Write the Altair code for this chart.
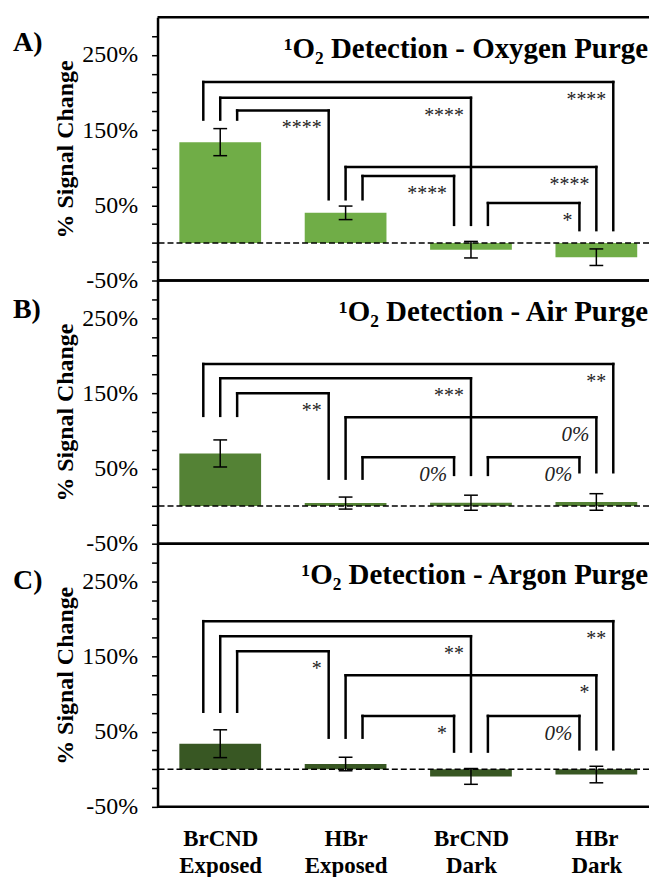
import json
import altair as alt
import pandas as pd

# ---------------- data ----------------
categories = ["BrCND Exposed", "HBr Exposed", "BrCND Dark", "HBr Dark"]
label_lines = [["BrCND", "Exposed"], ["HBr", "Exposed"], ["BrCND", "Dark"], ["HBr", "Dark"]]

panel_letters = ["A)", "B)", "C)"]
panel_titles = [
    "¹O₂ Detection - Oxygen Purge",
    "¹O₂ Detection - Air Purge",
    "¹O₂ Detection - Argon Purge",
]
bar_colors = ["#70AD47", "#548235", "#385723"]

means_oxygen = [134, 40, -9, -19]
errors_oxygen = [18, 9, 11, 11]
means_air = [70, 4, 4.5, 5.5]
errors_air = [18, 8, 10, 11]
means_argon = [34, 7, -9.5, -7]
errors_argon = [18.5, 9, 10.5, 11]

# comparisons (index of left bar, index of right bar)
comparison_pairs = [(0, 3), (0, 2), (0, 1), (1, 3), (1, 2), (2, 3)]
left_slot = [-1, 0, 1, 0, 1, 1]
right_slot = [1, 0, -1, 0, -1, -1]

bracket_tops_oxygen = [214, 193, 176, 101, 89, 53]
leg_ends_oxygen = [164, 58, 24, 17]
sig_oxygen = ["****", "****", "****", "****", "****", "*"]

bracket_tops_air = [189, 170, 150, 118, 65, 65]
leg_ends_air = [120, 36.5, 41.5, 45]
sig_air = ["**", "***", "**", "0%", "0%", "0%"]

bracket_tops_argon = [197, 177, 157, 125, 71, 71]
leg_ends_argon = [76.5, 42, 23.5, 26.5]
sig_argon = ["**", "**", "*", "*", "*", "0%"]

# ---------------- layout / style ----------------
SERIF = "Liberation Serif"
PLOT_W = 493
PLOT_H = 264
X_DOMAIN = [-0.5, 3.42]
Y_DOMAIN = [-50, 300]
BAR_HALF = 0.326
CAP_HALF = 0.055
LEG_GAP = 0.135
LETTER_BASELINE = [34, 38, 45]
TITLE_BASELINE = 40.5

x_label_expr = json.dumps(label_lines) + "[datum.value]"


def make_panel(k, means, errs, tops, legs, sigs):
    xscale = alt.Scale(domain=X_DOMAIN, nice=False, zero=False)
    if k == 2:
        xaxis = alt.Axis(
            values=[0, 1, 2, 3], labelExpr=x_label_expr, domain=False, ticks=False,
            tickSize=0, labelFont=SERIF, labelFontSize=23, labelFontWeight="bold",
            labelColor="black", labelPadding=21, labelLineHeight=27, labelFlush=False,
            labelOverlap=False, grid=False, title=None,
        )
    else:
        xaxis = None
    yaxis = alt.Axis(
        values=list(range(-50, 276, 25)),
        labelExpr="(datum.value + 50) % 100 == 0 ? datum.value + '%' : ''",
        tickSize=6, tickWidth=1.5, tickColor="black", domainColor="black",
        domainWidth=2.5, labelFont=SERIF, labelFontSize=24, labelColor="black",
        labelPadding=14, labelFlush=False, labelOverlap=False, grid=False,
        title="% Signal Change", titleFont=SERIF, titleFontSize=24,
        titleFontWeight="bold", titleColor="black", titleX=-92, titleY=PLOT_H / 2,
        titleAngle=270, titleAlign="center", titleBaseline="middle",
    )
    yscale = alt.Scale(domain=Y_DOMAIN, nice=False, zero=False)

    def X(f):
        return alt.X(f, type="quantitative", scale=xscale, axis=xaxis, title=None)

    def Y(f):
        return alt.Y(f, type="quantitative", scale=yscale, axis=yaxis)

    bars = pd.DataFrame({"i": list(range(4)), "cat": categories, "mean": means, "err": errs})
    bars["xa"] = bars["i"] - BAR_HALF
    bars["xb"] = bars["i"] + BAR_HALF
    bars["ca"] = bars["i"] - CAP_HALF
    bars["cb"] = bars["i"] + CAP_HALF
    bars["lo"] = bars["mean"] - bars["err"]
    bars["hi"] = bars["mean"] + bars["err"]
    bars["zero"] = 0

    seg_rows, lab_rows = [], []
    for (a, b), ls, rs, top, s in zip(comparison_pairs, left_slot, right_slot, tops, sigs):
        xl = a + ls * LEG_GAP
        xr = b + rs * LEG_GAP
        seg_rows.append(dict(x=xl, x2=xl, y=legs[a], y2=top))
        seg_rows.append(dict(x=xl, x2=xr, y=top, y2=top))
        seg_rows.append(dict(x=xr, x2=xr, y=legs[b], y2=top))
        lab_rows.append(dict(x=xr, y=top, text=s))
    segs = pd.DataFrame(seg_rows)
    labs = pd.DataFrame(lab_rows)

    base_bars = alt.Chart(bars)
    bar_layer = base_bars.mark_rect(color=bar_colors[k]).encode(
        x=X("xa"), x2="xb", y=Y("zero"), y2="mean"
    )
    err_v = base_bars.mark_rule(color="black", strokeWidth=1.5).encode(
        x=X("i"), y=Y("lo"), y2="hi"
    )
    cap_hi = base_bars.mark_rule(color="black", strokeWidth=1.5).encode(
        x=X("ca"), x2="cb", y=Y("hi")
    )
    cap_lo = base_bars.mark_rule(color="black", strokeWidth=1.5).encode(
        x=X("ca"), x2="cb", y=Y("lo")
    )
    ref = pd.DataFrame({"v": [0], "top": [Y_DOMAIN[1]], "bot": [Y_DOMAIN[0]]})
    zero_line = alt.Chart(ref).mark_rule(color="black", strokeWidth=1.5, strokeDash=[6, 3]).encode(
        y=Y("v")
    )
    top_line = alt.Chart(ref).mark_rule(color="black", strokeWidth=2.5).encode(y=Y("top"))
    bot_line = alt.Chart(ref).mark_rule(color="black", strokeWidth=2.5).encode(y=Y("bot"))

    brackets = alt.Chart(segs).mark_rule(color="black", strokeWidth=2.5, strokeCap="square").encode(
        x=X("x"), x2="x2", y=Y("y"), y2="y2"
    )
    stars = alt.Chart(labs).transform_filter("datum.text != '0%'").mark_text(
        align="right", baseline="alphabetic", dx=-7, dy=24, font=SERIF, fontSize=20, color="#222222"
    ).encode(x=X("x"), y=Y("y"), text="text:N")
    zeros = alt.Chart(labs).transform_filter("datum.text == '0%'").mark_text(
        align="right", baseline="alphabetic", dx=-7, dy=24, font=SERIF, fontSize=21,
        fontStyle="italic", color="#222222"
    ).encode(x=X("x"), y=Y("y"), text="text:N")

    title = alt.Chart(pd.DataFrame({"t": [panel_titles[k]]})).mark_text(
        align="right", baseline="alphabetic", font=SERIF, fontSize=29, fontWeight="bold", color="black"
    ).encode(x=alt.value(PLOT_W - 1), y=alt.value(TITLE_BASELINE), text="t:N")
    letter = alt.Chart(pd.DataFrame({"t": [panel_letters[k]]})).mark_text(
        align="left", baseline="alphabetic", font=SERIF, fontSize=28, fontWeight="bold", color="black"
    ).encode(x=alt.value(-145), y=alt.value(LETTER_BASELINE[k]), text="t:N")

    return alt.layer(
        bar_layer, zero_line, err_v, cap_hi, cap_lo, brackets, stars, zeros,
        top_line, bot_line, title, letter,
    ).properties(width=PLOT_W, height=PLOT_H)


panels = [
    make_panel(0, means_oxygen, errors_oxygen, bracket_tops_oxygen, leg_ends_oxygen, sig_oxygen),
    make_panel(1, means_air, errors_air, bracket_tops_air, leg_ends_air, sig_air),
    make_panel(2, means_argon, errors_argon, bracket_tops_argon, leg_ends_argon, sig_argon),
]

chart = alt.vconcat(*panels, spacing=0, bounds="flush").properties(
    padding={"left": 5, "top": 6, "right": 0, "bottom": 0}
).configure(font=SERIF).configure_view(stroke=None)

chart.save("out.html", embed_options={"renderer": "svg", "actions": False})
